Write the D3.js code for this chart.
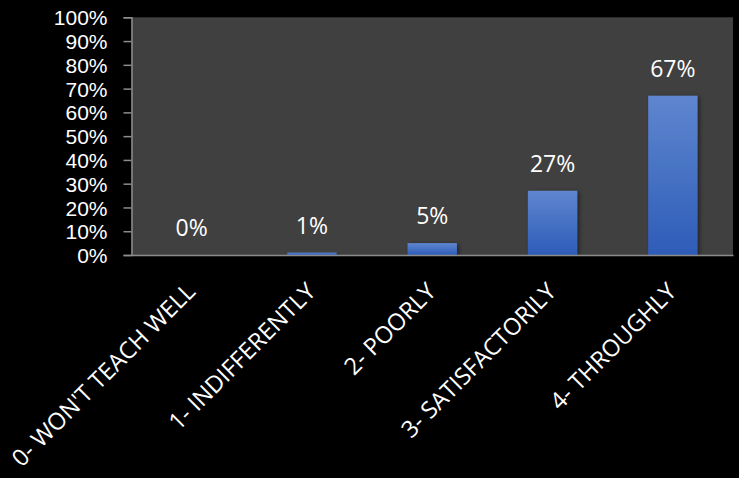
<!DOCTYPE html>
<html><head><meta charset="utf-8">
<script src="https://cdn.jsdelivr.net/npm/d3@7"></script>
<style>html,body{margin:0;padding:0;background:#000;}svg{display:block;}</style>
</head><body>
<script>
const categories = ["0- WON'T TEACH WELL","1- INDIFFERENTLY","2- POORLY","3- SATISFACTORILY","4- THROUGHLY"];
const values = [0, 0.01, 0.05, 0.27, 0.67];
const valueLabels = ["0%","1%","5%","27%","67%"];
const yTicks = [0,0.1,0.2,0.3,0.4,0.5,0.6,0.7,0.8,0.9,1.0];

const W = 739, H = 478;
const m = {left:131.5, top:17.3, right:6, bottom:223};
const iw = W - m.left - m.right, ih = H - m.top - m.bottom;
const font = "'Open Sans', sans-serif";
const tickFont = "'Liberation Sans', Arial, sans-serif";

const svg = d3.select("body").append("svg").attr("width",W).attr("height",H);
svg.append("rect").attr("width",W).attr("height",H).attr("fill","#000");

const defs = svg.append("defs");
const grad = defs.append("linearGradient").attr("id","barGrad").attr("x1",0).attr("y1",0).attr("x2",0).attr("y2",1);
grad.append("stop").attr("offset","0%").attr("stop-color","#5f86cf");
grad.append("stop").attr("offset","100%").attr("stop-color","#2e5cb8");
const f = defs.append("filter").attr("id","shadow").attr("x","-20%").attr("y","-20%").attr("width","150%").attr("height","150%");
f.append("feDropShadow").attr("dx",2).attr("dy",1).attr("stdDeviation",2).attr("flood-color","#000").attr("flood-opacity",0.45);

const g = svg.append("g").attr("transform",`translate(${m.left},${m.top})`);
g.append("rect").attr("width",iw).attr("height",ih).attr("fill","#404040");

const x = d3.scaleBand().domain(categories).range([0,iw]).paddingInner(0.59).paddingOuter(0.295);
const y = d3.scaleLinear().domain([0,1]).range([ih,0]);

g.selectAll("rect.bar").data(values).enter().append("rect").attr("class","bar")
  .attr("x",(d,i)=>x(categories[i]))
  .attr("y",d=>y(d))
  .attr("width",x.bandwidth())
  .attr("height",d=>ih-y(d))
  .attr("fill","url(#barGrad)")
  .attr("filter","url(#shadow)");

g.selectAll("text.val").data(values).enter().append("text").attr("class","val")
  .attr("x",(d,i)=>x(categories[i])+x.bandwidth()/2)
  .attr("y",d=>y(d)-19)
  .attr("text-anchor","middle")
  .attr("fill","#fff").attr("font-family",font).attr("font-size",23)
  .text((d,i)=>valueLabels[i]);

// Y axis
const ya = g.append("g").call(d3.axisLeft(y).tickValues(yTicks).tickFormat(d3.format(".0%")).tickSize(8).tickPadding(16));
ya.select(".domain").attr("stroke","#8c8c8c").attr("stroke-width",1.5);
ya.selectAll(".tick line").attr("stroke","#8c8c8c").attr("stroke-width",1.5);
ya.selectAll(".tick text").attr("fill","#fff").attr("font-family",tickFont).attr("font-size",21).attr("dy","0.36em");

// X axis
const xa = g.append("g").attr("transform",`translate(0,${ih})`).call(d3.axisBottom(x).tickSize(0).tickPadding(0));
xa.select(".domain").attr("stroke","#8c8c8c").attr("stroke-width",1.5);
xa.selectAll(".tick text")
  .attr("fill","#fff").attr("font-family",font).attr("font-size",23.5)
  .attr("text-anchor","end")
  .attr("dy",0).attr("y",0)
  .attr("transform","translate(5,38) rotate(-45)");
</script>
</body></html>
